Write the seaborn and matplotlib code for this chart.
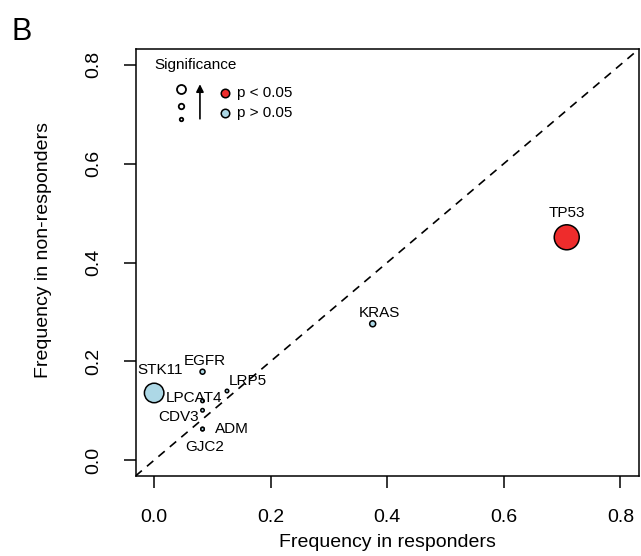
import numpy as np
import pandas as pd
import matplotlib
matplotlib.use("Agg")
import matplotlib.pyplot as plt
import seaborn as sns

# --- data ---
genes = ["TP53", "KRAS", "EGFR", "STK11", "LPCAT4", "LRP5", "CDV3", "ADM", "GJC2"]
freq_responders = [0.708, 0.375, 0.083, 0.0, 0.083, 0.125, 0.083, 0.083, 0.083]
freq_nonresponders = [0.451, 0.276, 0.179, 0.136, 0.120, 0.140, 0.101, 0.063, 0.063]
significance = ["p < 0.05", "p > 0.05", "p > 0.05", "p > 0.05", "p > 0.05",
                "p > 0.05", "p > 0.05", "p > 0.05", "p > 0.05"]
sig_score = [25, 6, 5, 19.5, 3.5, 3.5, 3.5, 3.5, 3.5]  # relative circle diameter

# label offsets (points) relative to each point
label_offsets = {
    "TP53": (0, 17.5), "KRAS": (5, 8), "EGFR": (1.5, 8), "STK11": (4, 16.5),
    "LPCAT4": (-6, 2.4), "LRP5": (15, 7), "CDV3": (-17.5, -4.5),
    "ADM": (21, 0), "GJC2": (1.5, -13),
}

df = pd.DataFrame({
    "gene": genes,
    "resp": freq_responders,
    "nonresp": freq_nonresponders,
    "sig": significance,
    "score": sig_score,
})

sns.set_style("white")
plt.rcParams['font.family'] = ['Liberation Sans', 'DejaVu Sans']
plt.rcParams['text.color'] = 'black'
plt.rcParams['axes.labelcolor'] = 'black'
plt.rcParams['xtick.color'] = 'black'
plt.rcParams['ytick.color'] = 'black'

fig = plt.figure(figsize=(6.41, 5.56), dpi=100)
ax = fig.add_axes([135.5 / 641, 1 - 476 / 556, 503.5 / 641, 427 / 556])

palette = {"p < 0.05": "#EE2C2C", "p > 0.05": "#ADD8E6"}
size_map = {v: (v * 0.72) ** 2 for v in set(sig_score)}

sns.scatterplot(data=df, x="resp", y="nonresp", hue="sig", size="score",
                palette=palette, sizes=size_map, edgecolor="black",
                linewidth=1.1, legend=False, ax=ax, zorder=3)

# diagonal y = x
ax.axline((0, 0), slope=1, color="black", lw=1.2, dashes=(5, 4), zorder=2)

for g, x, y in zip(genes, freq_responders, freq_nonresponders):
    dx, dy = label_offsets[g]
    ax.annotate(g, (x, y), xytext=(dx, dy), textcoords="offset points",
                ha="center", va="center", fontsize=11, zorder=4)

ax.set_xlim(-0.032, 0.832)
ax.set_ylim(-0.032, 0.832)
ax.set_xticks([0.0, 0.2, 0.4, 0.6, 0.8])
ax.set_yticks([0.0, 0.2, 0.4, 0.6, 0.8])
ax.set_xticklabels(["0.0", "0.2", "0.4", "0.6", "0.8"])
ax.set_yticklabels(["0.0", "0.2", "0.4", "0.6", "0.8"], rotation=90, va="center")
ax.tick_params(axis="both", direction="out", length=8.6, width=1.1,
               labelsize=14, pad=15, bottom=True, left=True)
for s in ax.spines.values():
    s.set_linewidth(1.1)
    s.set_color("black")

ax.set_xlabel("Frequency in responders", fontsize=14)
ax.set_ylabel("Frequency in non-responders", fontsize=14)
ax.xaxis.set_label_coords(0.5, -0.135)
ax.yaxis.set_label_coords(-0.165, 0.529)

# --- custom significance legend ---
tr = ax.transAxes
ax.text(0.119, 0.9625, "Significance", transform=tr, ha="center", va="center", fontsize=11)
for yy, d in zip([0.9056, 0.8665, 0.8354], [9, 5.5, 3.5]):
    ax.scatter([0.0898], [yy], s=(d * 0.72) ** 2, facecolor="white",
               edgecolor="black", linewidth=1.3, transform=tr, zorder=5)
ax.annotate("", xy=(0.128, 0.924), xytext=(0.128, 0.830), xycoords=tr,
            arrowprops=dict(arrowstyle="-|>", color="black", lw=1.2,
                            mutation_scale=11))
for yy, lab in zip([0.8977, 0.8494], ["p < 0.05", "p > 0.05"]):
    ax.scatter([0.1778], [yy], s=(8.5 * 0.72) ** 2, facecolor=palette[lab],
               edgecolor="black", linewidth=1.1, transform=tr, zorder=5)
    ax.text(0.201, yy, lab, transform=tr, ha="left", va="center", fontsize=11)

fig.text(22 / 641, 1 - 32 / 556, "B", fontsize=22, ha="center", va="center")

fig.savefig("out.png", dpi=100)
